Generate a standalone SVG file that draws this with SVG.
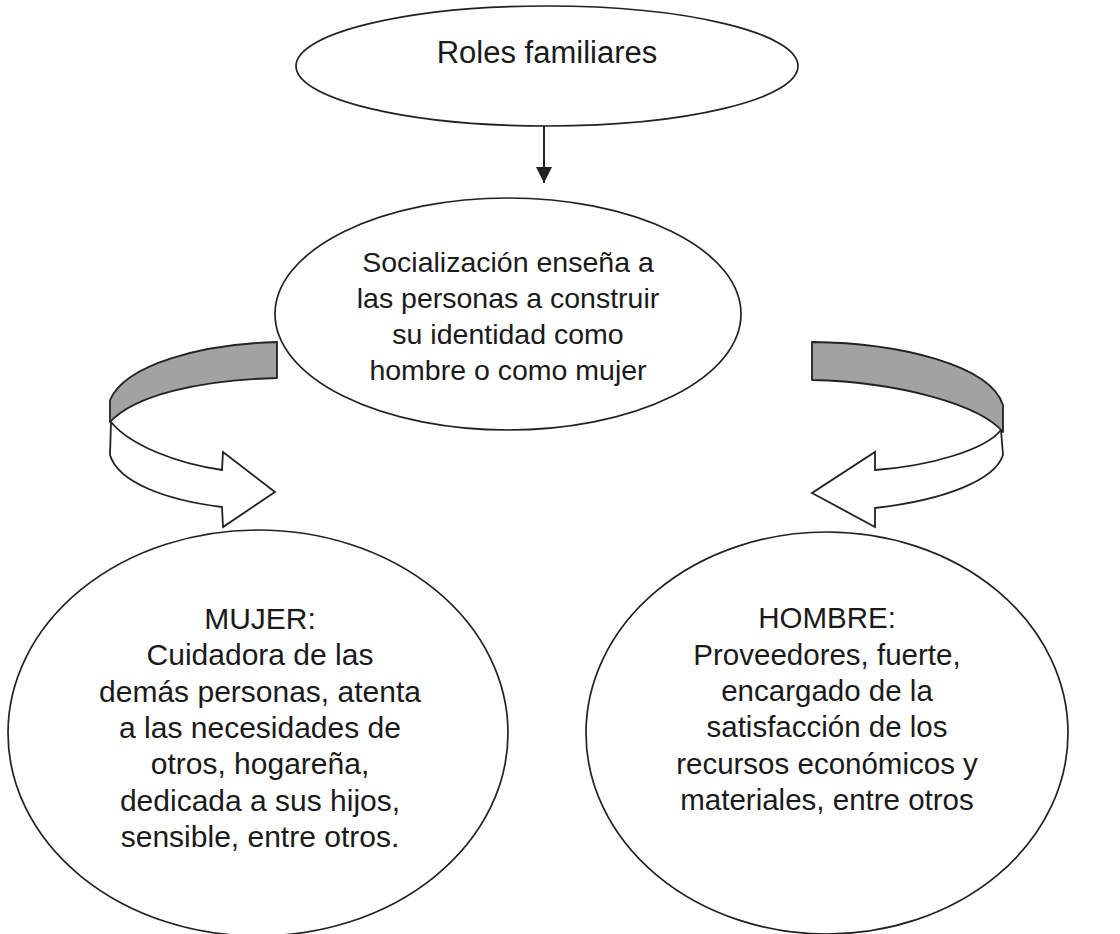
<svg xmlns="http://www.w3.org/2000/svg" width="1120" height="934" viewBox="0 0 1120 934">
<defs>
<style>
.node{fill:#fff;stroke:#222;stroke-width:1.7}
.t{font-family:"Liberation Sans",Arial,sans-serif;fill:#1a1a1a;text-anchor:middle}
.gray{fill:#a2a2a2;stroke:#222;stroke-width:1.8;stroke-linejoin:round}
.white{fill:#fff;stroke:#222;stroke-width:1.8;stroke-linejoin:miter}
.line{stroke:#222;stroke-width:2;fill:none}
</style>
<marker id="ah" viewBox="0 0 10 10" refX="10" refY="5" markerWidth="16" markerHeight="16" markerUnits="userSpaceOnUse" orient="auto">
<path d="M0,0 L10,5 L0,10 Z" fill="#222"/>
</marker>
</defs>
<rect width="1120" height="934" fill="#fff"/>
<g id="roles">
<ellipse class="node" cx="547" cy="66" rx="251" ry="60"/>
<text class="t" x="547" y="63" font-size="31">Roles familiares</text>
</g>
<g id="socializacion">
<ellipse class="node" cx="508" cy="314" rx="233" ry="116"/>
<text class="t" font-size="28.5"><tspan x="508" y="272">Socialización enseña a</tspan><tspan x="508" y="308">las personas a construir</tspan><tspan x="508" y="344">su identidad como</tspan><tspan x="508" y="380">hombre o como mujer</tspan></text>
</g>
<g id="mujer">
<ellipse class="node" cx="258" cy="733" rx="250" ry="203"/>
<text class="t" font-size="30"><tspan x="260" y="629">MUJER:</tspan><tspan x="260" y="665">Cuidadora de las</tspan><tspan x="260" y="702">demás personas, atenta</tspan><tspan x="260" y="738">a las necesidades de</tspan><tspan x="260" y="774">otros, hogareña,</tspan><tspan x="260" y="811">dedicada a sus hijos,</tspan><tspan x="260" y="847">sensible, entre otros.</tspan></text>
</g>
<g id="hombre">
<ellipse class="node" cx="827" cy="733" rx="241" ry="201"/>
<text class="t" font-size="29.5"><tspan x="827" y="628">HOMBRE:</tspan><tspan x="827" y="665">Proveedores, fuerte,</tspan><tspan x="827" y="701">encargado de la</tspan><tspan x="827" y="737">satisfacción de los</tspan><tspan x="827" y="774">recursos económicos y</tspan><tspan x="827" y="810">materiales, entre otros</tspan></text>
</g>
<g id="connectors">
<line class="line" x1="544" y1="126" x2="544" y2="183" marker-end="url(#ah)"/>
<g id="arrow-left">
<path class="white" d="M111 422 C130 445 175 463 222 470 L223 452 L275 492 L223 527 L222 507 C165 500 118 482 110 455 Z"/>
<path class="gray" d="M277 342 C200 344 125 365 110 400 L110 422 C135 395 200 380 277 378 Z"/>
</g>
<g id="arrow-right">
<path class="white" d="M1001 430 C985 450 930 466 875 470 L875 452 L812 493 L875 527 L875 508 C945 500 995 480 1003 455 Z"/>
<path class="gray" d="M812 342 C900 343 990 365 1003 405 L1003 432 C980 405 900 382 812 380 Z"/>
</g>
</g>
</svg>
